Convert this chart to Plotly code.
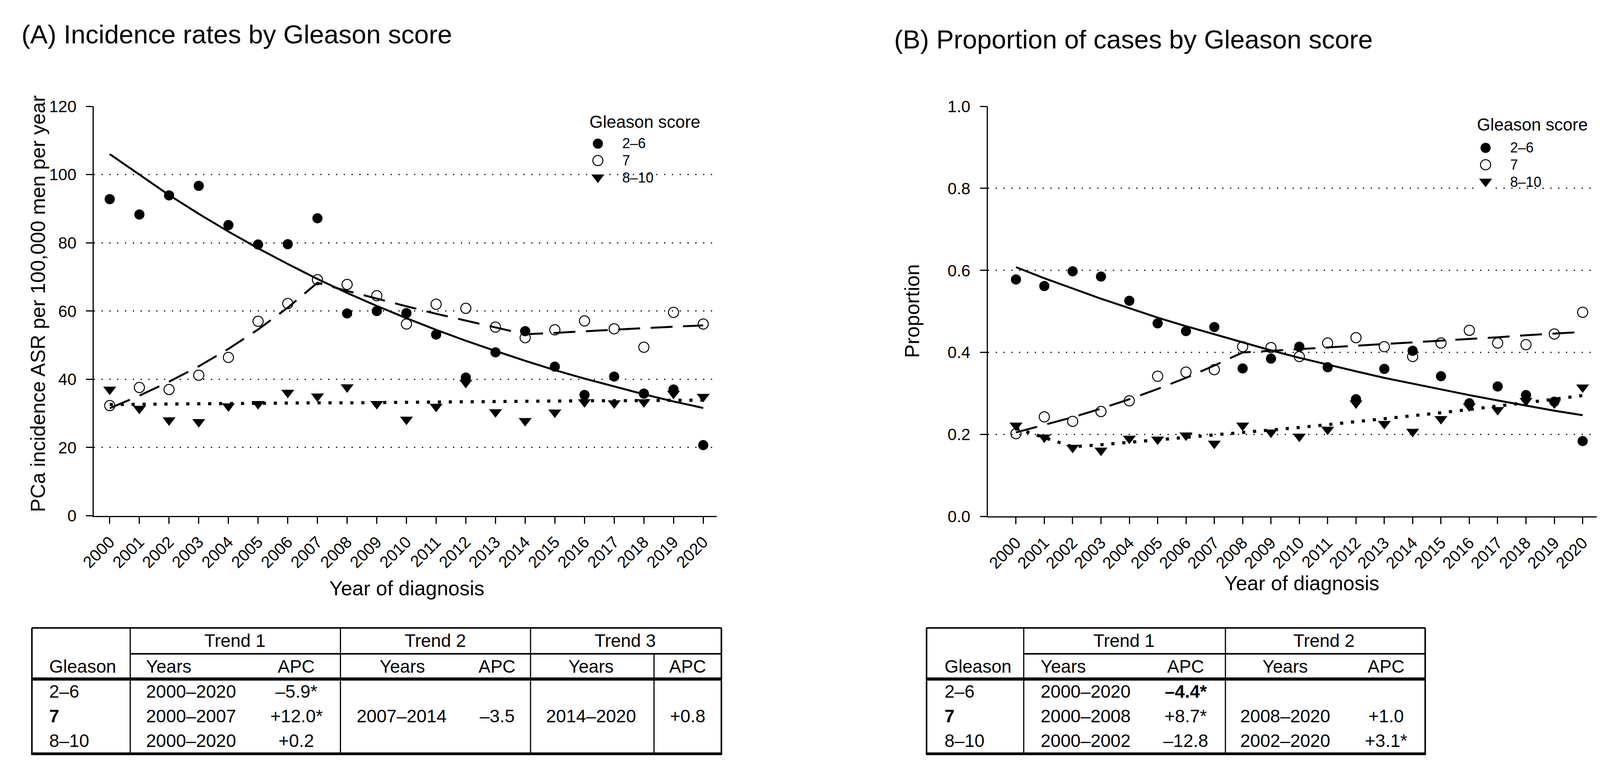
import plotly.graph_objects as go

W, H = 4135, 1970
FONT = "Liberation Sans, Arial, sans-serif"

years = list(range(2000, 2021))
groups = ["2–6", "7", "8–10"]

# (A) incidence ASR per 100,000, observed points
asr_26 = [92.8, 88.3, 93.9, 96.7, 85.2, 79.5, 79.6, 87.2, 59.3, 60.0, 59.4,
          53.1, 40.5, 47.9, 54.1, 43.7, 35.4, 40.8, 35.8, 37.0, 20.7]
asr_7 = [32.3, 37.6, 37.0, 41.2, 46.4, 57.0, 62.2, 69.2, 67.8, 64.5, 56.2,
         62.0, 60.8, 55.3, 52.2, 54.5, 57.1, 54.8, 49.4, 59.6, 56.2]
asr_810 = [37.0, 31.4, 28.0, 27.5, 32.1, 32.8, 36.1, 35.0, 37.7, 32.8, 28.2,
           32.0, 39.0, 30.4, 27.8, 30.3, 33.3, 33.0, 33.3, 35.8, 34.9]

# (A) joinpoint fitted lines
asr_fit_26 = [106.0, 100.0, 94.0, 88.5, 83.3, 78.4, 73.8, 69.4, 65.3, 61.5, 57.9,
              54.5, 51.3, 48.3, 45.4, 42.7, 40.2, 37.9, 35.6, 33.5, 31.6]
asr_fit_7 = [31.5, 35.2, 39.3, 43.8, 48.9, 54.6, 61.0, 68.3, 65.9, 63.6, 61.4,
             59.2, 57.2, 55.2, 53.2, 53.6, 54.1, 54.5, 55.0, 55.4, 55.8]
asr_fit_810 = [32.6, 32.7, 32.7, 32.8, 32.9, 32.9, 33.0, 33.1, 33.1, 33.2, 33.3,
               33.3, 33.4, 33.5, 33.5, 33.6, 33.7, 33.7, 33.8, 33.9, 33.9]

# (B) proportion of cases, observed points
prop_26 = [0.578, 0.562, 0.598, 0.585, 0.526, 0.471, 0.452, 0.462, 0.361, 0.385, 0.414,
           0.364, 0.286, 0.360, 0.404, 0.342, 0.276, 0.317, 0.296, 0.280, 0.184]
prop_7 = [0.202, 0.243, 0.232, 0.256, 0.282, 0.342, 0.352, 0.358, 0.414, 0.412, 0.390,
          0.423, 0.436, 0.414, 0.390, 0.423, 0.454, 0.423, 0.419, 0.445, 0.498]
prop_810 = [0.222, 0.193, 0.168, 0.161, 0.190, 0.188, 0.198, 0.178, 0.222, 0.205, 0.195,
            0.212, 0.276, 0.226, 0.207, 0.238, 0.269, 0.260, 0.282, 0.276, 0.315]

# (B) joinpoint fitted lines
prop_fit_26 = [0.608, 0.581, 0.556, 0.531, 0.508, 0.485, 0.464, 0.444, 0.424, 0.405, 0.387,
               0.370, 0.354, 0.338, 0.324, 0.309, 0.296, 0.283, 0.270, 0.258, 0.247]
prop_fit_7 = [0.205, 0.223, 0.242, 0.263, 0.286, 0.311, 0.338, 0.368, 0.400, 0.404, 0.408,
              0.412, 0.416, 0.420, 0.424, 0.429, 0.433, 0.437, 0.442, 0.446, 0.450]
prop_fit_810 = [0.215, 0.192, 0.170, 0.175, 0.181, 0.187, 0.192, 0.198, 0.204, 0.211, 0.217,
                0.224, 0.231, 0.238, 0.246, 0.253, 0.261, 0.269, 0.278, 0.286, 0.295]

# joinpoint tables
table_a_head = ["Trend 1", "Trend 2", "Trend 3"]
table_a_rows = [
    ["2–6", "2000–2020", "–5.9*", "", "", "", ""],
    ["7", "2000–2007", "+12.0*", "2007–2014", "–3.5", "2014–2020", "+0.8"],
    ["8–10", "2000–2020", "+0.2", "", "", "", ""],
]
table_b_head = ["Trend 1", "Trend 2"]
table_b_rows = [
    ["2–6", "2000–2020", "–4.4*", "", ""],
    ["7", "2000–2008", "+8.7*", "2008–2020", "+1.0"],
    ["8–10", "2000–2002", "–12.8", "2002–2020", "+3.1*"],
]
bold_cells = {"7", "–4.4*"}


def px(x):
    return x / W


def py(y):
    return 1 - y / H


fig = go.Figure()

line_styles = [dict(width=5, dash="solid"),
               dict(width=5, dash="56px,27px"),
               dict(width=8, dash="8px,20px")]
marker_styles = [dict(symbol="circle", size=26, color="black"),
                 dict(symbol="circle-open", size=26, color="black", line=dict(width=2.5, color="black")),
                 dict(symbol="triangle-down", size=29, color="black")]

panels = [
    ("x", "y", [asr_fit_26, asr_fit_7, asr_fit_810], [asr_26, asr_7, asr_810]),
    ("x2", "y2", [prop_fit_26, prop_fit_7, prop_fit_810], [prop_26, prop_7, prop_810]),
]
for xa, ya, fits, obs in panels:
    for g, fit, ls in zip(groups, fits, line_styles):
        fig.add_trace(go.Scatter(x=years, y=fit, mode="lines", name=g, xaxis=xa, yaxis=ya,
                                 line=dict(color="black", **ls), showlegend=False,
                                 hoverinfo="skip"))
    for g, vals, ms in zip(groups, obs, marker_styles):
        fig.add_trace(go.Scatter(x=years, y=vals, mode="markers", name=g, xaxis=xa, yaxis=ya,
                                 marker=ms, showlegend=False))

# legend keys: one marker per group on a small categorical axis pair per panel
for xa, ya in [("x3", "y3"), ("x4", "y4")]:
    for g, ms in zip(groups, marker_styles):
        fig.add_trace(go.Scatter(x=[0], y=[g], mode="markers", xaxis=xa, yaxis=ya,
                                 marker=ms, showlegend=False, cliponaxis=False,
                                 hoverinfo="skip"))

axis_common = dict(showline=True, linewidth=3, linecolor="black", ticks="outside",
                   ticklen=17, tickwidth=3, tickcolor="black",
                   tickfont=dict(family=FONT, size=42, color="black"), zeroline=False)
xaxis_common = dict(axis_common, tickvals=years, ticktext=[str(y) for y in years],
                    tickangle=-45, showgrid=False, ticklabelstandoff=6)
yaxis_common = dict(axis_common, showgrid=True, gridcolor="black", gridwidth=3,
                    griddash="3px,17px", ticklabelstandoff=16)

annotations = []


def text(x, y, s, size, xanchor="left", angle=0, bold=False, align="left"):
    if bold:
        s = "<b>" + s + "</b>"
    annotations.append(dict(x=px(x), y=py(y), xref="paper", yref="paper", text=s,
                            showarrow=False, xanchor=xanchor, yanchor="middle", align=align,
                            textangle=angle, font=dict(family=FONT, size=size, color="black")))


# titles and axis titles
text(8, 58, "(A) Incidence rates by Gleason score", 67)
text(2262, 71, "(B) Proportion of cases by Gleason score", 67)
text(52, 764, "PCa incidence ASR per 100,000 men per year", 52, "center", -90)
text(2311, 783, "Proportion", 52, "center", -90)
text(1006, 1510, "Year of diagnosis", 52, "center")
text(3317, 1497, "Year of diagnosis", 52, "center")

# legends: title, key markers (axes x3/y3, x4/y4) and a block of labels
ROW = 44.2
lab_block = "<br>".join('<span style="font-size:36px">%s</span>' % g for g in groups)
legend_axes = {}
for n, (lx, ly, mid) in zip([3, 4], [(1475, 287, 389), (3768, 295, 400)]):
    text(lx, ly, "Gleason score", 44)
    text(lx + 85, mid, lab_block, 34)
    legend_axes["xaxis%d" % n] = dict(domain=[px(lx + 4), px(lx + 44)], range=[-1, 1],
                                     visible=False, anchor="y%d" % n)
    legend_axes["yaxis%d" % n] = dict(domain=[py(mid + 1.5 * ROW), py(mid - 1.5 * ROW)],
                                     type="category", categoryorder="array",
                                     categoryarray=groups, range=[2.5, -0.5],
                                     visible=False, anchor="x%d" % n)

# tables
shapes = []


def hline(x0, x1, y, w):
    shapes.append(dict(type="line", xref="paper", yref="paper", x0=px(x0), x1=px(x1),
                       y0=py(y), y1=py(y), line=dict(color="black", width=w)))


def vline(x, y0, y1, w):
    shapes.append(dict(type="line", xref="paper", yref="paper", x0=px(x), x1=px(x),
                       y0=py(y0), y1=py(y1), line=dict(color="black", width=w)))


T_TOP, T_R1, T_R2, T_BOT = 1614, 1682, 1748, 1944
HEAD1, HEAD2 = 1647, 1715
ROWS_Y = [1780, 1845, 1910]

# table A
L, R = 37, 1818
hline(L, R, T_TOP, 4)
hline(291, R, T_R1, 4)
hline(L, R, T_R2, 8)
hline(L - 2, R + 2, T_BOT, 7)
for x in [L, 291, 834, 1325, R]:
    vline(x, T_TOP, T_BOT, 4 if x in (L, R) else 3)
vline(1644, T_R1, T_BOT, 3)
for h, cx in zip(table_a_head, [562, 1079, 1570]):
    text(cx, HEAD1, h, 46, "center")
text(80, HEAD2, "Gleason", 46)
text(330, HEAD2, "Years", 46)
for s, cx in [("APC", 720), ("Years", 994), ("APC", 1239), ("Years", 1481), ("APC", 1731)]:
    text(cx, HEAD2, s, 46, "center")
for ry, row in zip(ROWS_Y, table_a_rows):
    text(80, ry, row[0], 46, bold=row[0] in bold_cells)
    text(330, ry, row[1], 46)
    for s, cx in zip(row[2:], [720, 992, 1239, 1481, 1731]):
        if s:
            text(cx, ry, s, 46, "center", bold=s in bold_cells)

# table B
L, R = 2348, 3636
hline(L, R, T_TOP, 4)
hline(2599, R, T_R1, 4)
hline(L, R, T_R2, 8)
hline(L - 2, R + 2, T_BOT, 7)
for x in [L, 2599, 3120, R]:
    vline(x, T_TOP, T_BOT, 4 if x in (L, R) else 3)
for h, cx in zip(table_b_head, [2858, 3375]):
    text(cx, HEAD1, h, 46, "center")
text(2392, HEAD2, "Gleason", 46)
text(2641, HEAD2, "Years", 46)
for s, cx in [("APC", 3018), ("Years", 3274), ("APC", 3535)]:
    text(cx, HEAD2, s, 46, "center")
for ry, row in zip(ROWS_Y, table_b_rows):
    text(2392, ry, row[0], 46, bold=row[0] in bold_cells)
    text(2641, ry, row[1], 46)
    for s, cx in zip(row[2:], [3018, 3274, 3535]):
        if s:
            text(cx, ry, s, 46, "center", bold=s in bold_cells)

fig.update_layout(
    width=W, height=H, autosize=False,
    margin=dict(l=0, r=0, t=0, b=0),
    paper_bgcolor="white", plot_bgcolor="white",
    font=dict(family=FONT, color="black"),
    showlegend=False,
    xaxis=dict(xaxis_common, domain=[px(197), px(1806)], range=[1999.465, 2020.456], anchor="y"),
    yaxis=dict(yaxis_common, domain=[py(1320), py(247)], range=[0, 120],
               tickvals=[0, 20, 40, 60, 80, 100, 120], anchor="x"),
    xaxis2=dict(xaxis_common, domain=[px(2506), 1.0], range=[1999.003, 2021.26], anchor="y2"),
    yaxis2=dict(yaxis_common, domain=[py(1322), py(247)], range=[0, 1.0],
                tickvals=[0, 0.2, 0.4, 0.6, 0.8, 1.0], tickformat=".1f", anchor="x2"),
    annotations=annotations,
    shapes=shapes,
    **legend_axes,
)

fig.write_html("out.html")
